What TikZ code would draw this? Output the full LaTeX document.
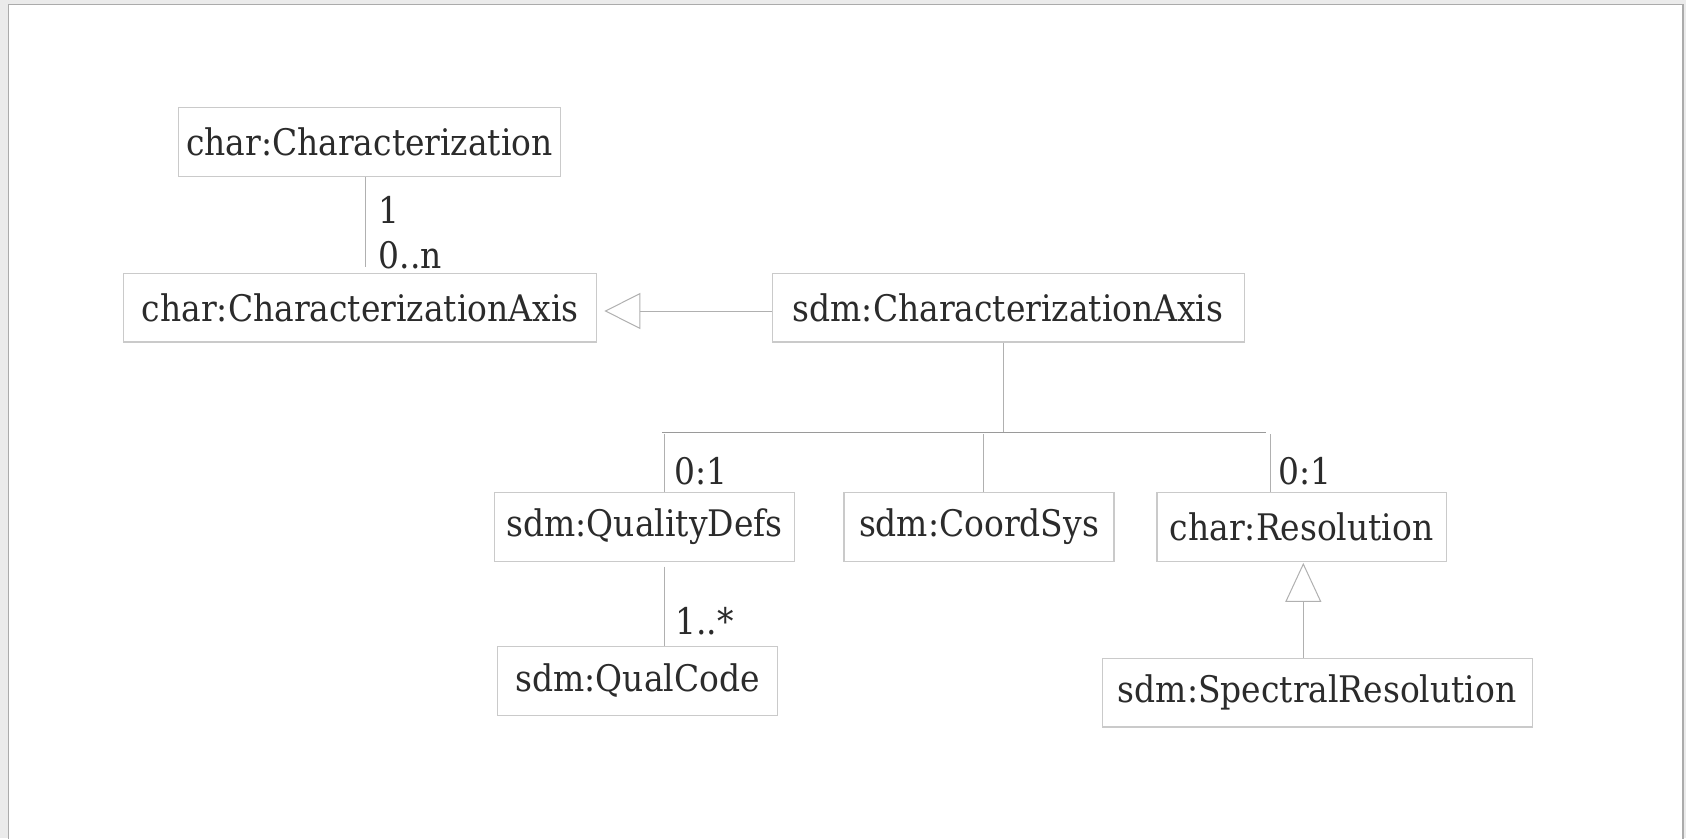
\documentclass[tikz,border=0pt]{standalone}
\usepackage{fontspec}
\setmainfont{DejaVu Serif Condensed}
\usetikzlibrary{arrows.meta}
\definecolor{pagegray}{HTML}{EBEBEB}
\definecolor{framegray}{HTML}{ABABAB}
\definecolor{boxgray}{HTML}{CACACA}
\definecolor{linegray}{HTML}{B0B0B0}
\definecolor{bargray}{HTML}{9A9A9A}
\definecolor{textgray}{HTML}{2B2B2B}
\begin{document}
\begin{tikzpicture}[x=1pt,y=-1pt,
  umlbox/.style={draw=boxgray, line width=1.2pt, inner sep=0pt, minimum height=68.8pt,
    text=textgray, font=\fontsize{36.6}{40}\selectfont},
  conn/.style={draw=linegray, line width=1pt},
  bar/.style={draw=bargray, line width=1pt},
  mult/.style={anchor=west, inner sep=0pt, text=textgray, font=\fontsize{36.6}{40}\selectfont},
  gen/.style={conn, -{Triangle[open, length=#1, width=36pt]}},
  gen/.default=36pt
]
\useasboundingbox (0,0) rectangle (1686,838);
% page and frame
\fill[pagegray] (0,0) rectangle (1686,838);
\filldraw[fill=white, draw=framegray, line width=1.5pt] (8.5,4.5) rectangle (1683,845);

% classes
\node[umlbox, minimum width=381.7pt] (charChar) at (369.4,141.9) {char:Characterization};
\node[umlbox, minimum width=473.1pt] (charAxis) at (360.2,307.5) {char:CharacterizationAxis};
\node[umlbox, minimum width=472pt]   (sdmAxis)  at (1008.1,307.5) {sdm:CharacterizationAxis};
\node[umlbox, minimum width=300pt]   (qualDefs) at (644.6,526.9) {sdm:QualityDefs};
\node[umlbox, minimum width=270pt]   (coordSys) at (979,526.9) {sdm:CoordSys};
\node[umlbox, minimum width=289.3pt] (charRes)  at (1301.7,526.9) {char:Resolution};
\node[umlbox, minimum width=279.5pt] (qualCode) at (637.6,680.7) {sdm:QualCode};
\node[umlbox, minimum width=430.1pt] (specRes)  at (1317.2,692.5) {sdm:SpectralResolution};

% association Characterization -- CharacterizationAxis
\coordinate (aEnd) at (365.6,267);
\draw[conn] (aEnd |- charChar.south) -- (aEnd);
\node[mult] (m1) at (378.5,209.7) {1};
\node[mult] (m2) at (378.5,254.8) {0..n};

% generalization sdm axis -> char axis
\coordinate (genY) at (0,311);
\draw[gen, shorten >=7pt] (sdmAxis.west |- genY) -- (charAxis.east |- genY);

% composition tree below sdm:CharacterizationAxis
\coordinate (hub) at (1003.3,432.3);
\coordinate (barL) at (662.4,432.3);
\coordinate (barR) at (1265.7,432.3);
\draw[conn] (hub |- sdmAxis.south) -- (hub);
\draw[bar] (barL) -- (barR);
\coordinate (dQ) at (664.5,434);
\coordinate (dC) at (983.9,434);
\coordinate (dR) at (1270,434);
\draw[conn] (dQ) -- (dQ |- qualDefs.north);
\draw[conn] (dC) -- (dC |- coordSys.north);
\draw[conn] (dR) -- (dR |- charRes.north);
\node[mult] (m3) at (674.2,471) {0:1};
\node[mult] (m4) at (1278.5,471) {0:1};

% QualityDefs -- QualCode
\coordinate (qd) at (664.5,566.7);
\draw[conn] (qd) -- (qd |- qualCode.north);
\node[mult] (m5) at (675.3,621.5) {1..*};

% generalization SpectralResolution -> Resolution
\coordinate (sr) at (1303.3,0);
\draw[gen=39pt, shorten >=1pt] (sr |- specRes.north) -- (sr |- charRes.south);
\end{tikzpicture}
\end{document}
